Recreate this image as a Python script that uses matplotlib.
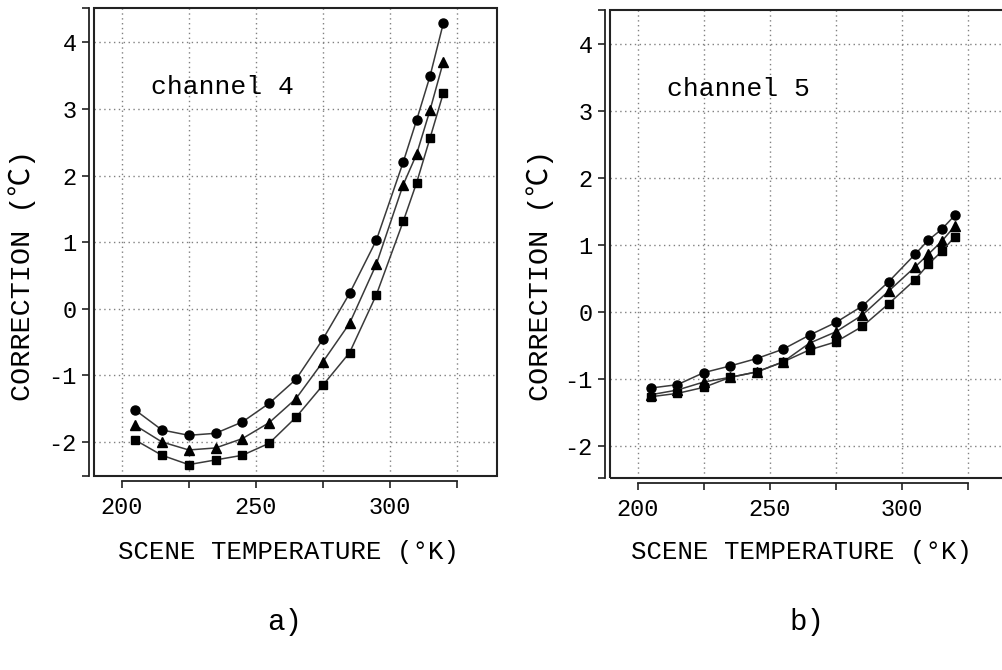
import matplotlib
matplotlib.use("Agg")
import matplotlib.pyplot as plt
from matplotlib.patches import Rectangle

plt.rcParams['font.family'] = ['Liberation Mono', 'DejaVu Sans Mono']

# scene temperature (K)
temps = [205, 215, 225, 235, 245, 255, 265, 275, 285, 295, 305, 310, 315, 320]

# channel 4 corrections (C)
ch4_circle = [-1.52, -1.82, -1.90, -1.87, -1.70, -1.42, -1.06, -0.46, 0.23, 1.03, 2.20, 2.83, 3.49, 4.29]
ch4_triangle = [-1.75, -2.00, -2.12, -2.09, -1.95, -1.71, -1.35, -0.80, -0.22, 0.67, 1.86, 2.32, 2.98, 3.71]
ch4_square = [-1.97, -2.20, -2.34, -2.27, -2.20, -2.02, -1.63, -1.15, -0.66, 0.21, 1.31, 1.89, 2.56, 3.24]

# channel 5 corrections (C)
ch5_circle = [-1.14, -1.09, -0.91, -0.81, -0.70, -0.56, -0.35, -0.16, 0.085, 0.45, 0.86, 1.07, 1.23, 1.44]
ch5_triangle = [-1.24, -1.17, -1.05, -0.98, -0.90, -0.75, -0.47, -0.30, -0.05, 0.31, 0.67, 0.86, 1.05, 1.28]
ch5_square = [-1.27, -1.22, -1.13, -0.98, -0.90, -0.75, -0.57, -0.45, -0.22, 0.12, 0.48, 0.71, 0.90, 1.12]

xticks = [200, 225, 250, 275, 300, 325]
xticklabels = ['200', '', '250', '', '300', '']
yticks = [-2, -1, 0, 1, 2, 3, 4]
yticklabels = ['-2', '-1', '0', '1', '2', '3', '4']

W, H = 1003, 670
fig = plt.figure(figsize=(W / 100, H / 100), dpi=100)


def panel(rect, xlim, ylim, series, name):
    ax = fig.add_axes(rect)
    ax.set_xlim(*xlim)
    ax.set_ylim(*ylim)
    ax.add_patch(Rectangle((0, 0), 1, 1, transform=ax.transAxes, fill=False,
                           lw=1.5, ec='#222222', clip_on=False, zorder=5))
    ax.spines['top'].set_visible(False)
    ax.spines['right'].set_visible(False)
    for s in ('left', 'bottom'):
        ax.spines[s].set_position(('outward', 3.5))
        ax.spines[s].set_linewidth(1.3)
        ax.spines[s].set_color('#222222')
    ax.spines['bottom'].set_bounds(200, 325)
    ax.set_xticks(xticks)
    ax.set_xticklabels(xticklabels)
    ax.set_yticks(yticks)
    ax.set_yticklabels(yticklabels)
    ax.set_yticks([ylim[0], ylim[1]], minor=True)
    ax.tick_params(which='both', direction='out', length=5, width=1.2,
                   color='#222222', labelsize=17)
    ax.tick_params(axis='y', pad=4)
    ax.tick_params(axis='x', pad=6)
    ax.grid(True, which='major', linestyle=(0, (1, 2.5)), color='#808080', lw=1)
    for vals, m, ms in zip(series, ['o', '^', 's'], [6.5, 7, 5.5]):
        ax.plot(temps, vals, '-', color='#3a3a3a', lw=1.1, marker=m,
                mfc='black', mec='black', ms=ms, zorder=3)
    ax.text(211, 3.33, name, fontsize=19, va='center', ha='left')
    return ax


panel([94 / W, 1 - 476 / H, 403 / W, 468 / H], (189.66, 340.0), (-2.511, 4.515),
      [ch4_circle, ch4_triangle, ch4_square], 'channel 4')
panel([610 / W, 1 - 478 / H, 403 / W, 468 / H], (189.5, 342.0), (-2.484, 4.506),
      [ch5_circle, ch5_triangle, ch5_square], 'channel 5')

# the mono fonts have no ℃ glyph, Noto Sans CJK supplies it
for xc in (22, 540):
    fig.text(xc / W, 1 - 275 / H, 'CORRECTION (℃)', rotation=90, fontsize=20.5,
             ha='center', va='center',
             family=['Liberation Mono', 'Noto Sans CJK SC', 'DejaVu Sans'])
for xc in (288, 802):
    fig.text(xc / W, 1 - 552 / H, 'SCENE TEMPERATURE (°K)', fontsize=18.5,
             ha='center', va='center')
fig.text(285 / W, 1 - 622 / H, 'a)', fontsize=21, ha='center', va='center')
fig.text(807 / W, 1 - 622 / H, 'b)', fontsize=21, ha='center', va='center')

fig.savefig('out.png', dpi=100)
